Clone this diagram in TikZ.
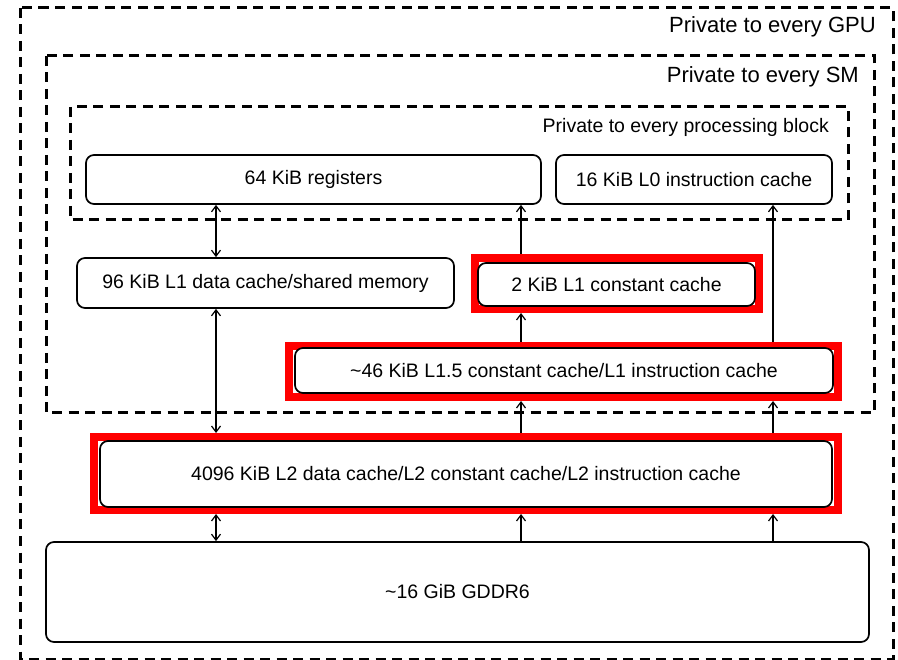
\documentclass[tikz,border=0pt]{standalone}
\usepackage{fontspec}
\setmainfont{Liberation Sans}
\usetikzlibrary{arrows.meta}
\begin{document}
\begin{tikzpicture}[x=1pt,y=-1pt,
  box/.style={draw=black,line width=1.7pt,rounded corners=8pt,fill=white,inner sep=0pt,
     font=\fontsize{19.5}{23}\selectfont},
  redbox/.style={draw=red,line width=8pt,inner sep=0pt},
  region/.style={draw=black,line width=3pt,dash pattern=on 10pt off 6.5pt},
  lbl/.style={anchor=base east,inner sep=0pt},
  link/.style={line width=1.2pt,arrows={-Straight Barb[length=6pt,width=9pt,line width=1.2pt]}},
  blink/.style={line width=1.2pt,arrows={Straight Barb[length=6pt,width=9pt,line width=1.2pt]-Straight Barb[length=6pt,width=9pt,line width=1.2pt]}}
]
\useasboundingbox[fill=white] (0,0) rectangle (898,660);
% regions
\draw[region] (20,8) rectangle (893,659);
\draw[region] (46,56) rectangle (874,413);
\draw[region] (70,107) rectangle (848,220);
\node[lbl,font=\fontsize{22}{26}\selectfont] (gpu) at (876,33) {Private to every GPU};
\node[lbl,font=\fontsize{22}{26}\selectfont] (sm) at (859,83) {Private to every SM};
\node[lbl,font=\fontsize{19.5}{23}\selectfont] (pb) at (829,133) {Private to every processing block};
% red frames
\node[redbox,minimum width=284pt,minimum height=51pt] (l1cr) at (617,283.5) {};
\node[redbox,minimum width=549pt,minimum height=51pt] (l15r) at (563.5,371.5) {};
\node[redbox,minimum width=744pt,minimum height=73pt] (l2r) at (466,473.5) {};
% boxes
\node[box,minimum width=455pt,minimum height=49pt] (reg) at (313.5,179.5) {64 KiB registers};
\node[box,minimum width=276pt,minimum height=49pt] (l0) at (694,179.5) {16 KiB L0 instruction cache};
\node[box,minimum width=377pt,minimum height=50pt] (l1d) at (265.5,283) {96 KiB L1 data cache/shared memory};
\node[box,minimum width=277pt,minimum height=43pt] (l1c) at (616.5,284.5) {2 KiB L1 constant cache};
\node[box,minimum width=538pt,minimum height=45pt] (l15) at (564,370.5) {\textasciitilde46 KiB L1.5 constant cache/L1 instruction cache};
\node[box,minimum width=732pt,minimum height=66pt] (l2) at (466,474) {4096 KiB L2 data cache/L2 constant cache/L2 instruction cache};
\node[box,minimum width=823pt,minimum height=100pt] (gddr) at (457.5,592) {\textasciitilde16 GiB GDDR6};
% connector columns
\coordinate (xa) at (216,0);
\coordinate (xb) at (521,0);
\coordinate (xc) at (773,0);
% connectors
\draw[blink] (reg.south -| xa) -- (l1d.north -| xa);
\draw[blink] (l1d.south -| xa) -- (l2r.north -| xa);
\draw[blink] (l2r.south -| xa) -- (gddr.north -| xa);
\draw[link] (l1cr.north -| xb) -- (reg.south -| xb);
\draw[link] (l15r.north -| xb) -- (l1cr.south -| xb);
\draw[link] (l2r.north -| xb) -- (l15r.south -| xb);
\draw[link] (gddr.north -| xb) -- (l2r.south -| xb);
\draw[link] (l15r.north -| xc) -- (l0.south -| xc);
\draw[link] (l2r.north -| xc) -- (l15r.south -| xc);
\draw[link] (gddr.north -| xc) -- (l2r.south -| xc);
\end{tikzpicture}
\end{document}
